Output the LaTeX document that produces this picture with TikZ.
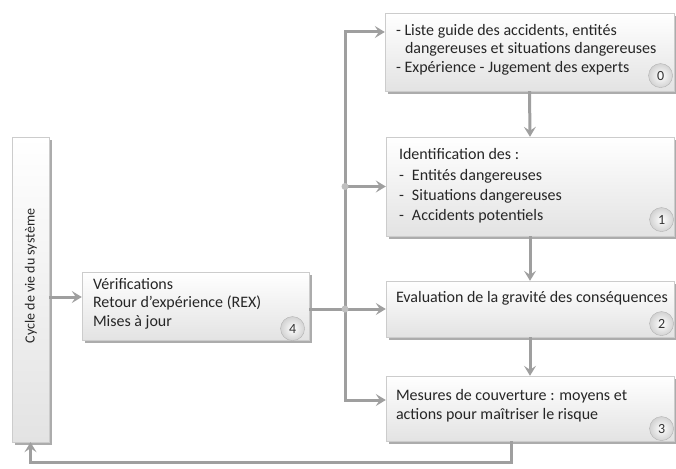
\documentclass[tikz,border=0pt]{standalone}
\usepackage{fontspec}
\setmainfont{Carlito}
\usetikzlibrary{arrows.meta,positioning,shadows}
\tikzset{
    procbox/.style={draw=gray!40, top color=white, bottom color=gray!22, inner sep=0pt,
        drop shadow={shadow xshift=3pt, shadow yshift=-3pt, fill=gray!65, opacity=1}}, % boxes of the steps
    boxtext/.style={inner sep=0pt, align=left, text=black!85, font=\fontsize{16}{18.5}\selectfont},
    numball/.style={circle, draw=gray!60, inner color=white, outer color=gray!35,
        minimum size=24pt, inner sep=0pt, text=black!80, font=\fontsize{14}{14}\selectfont},
    flow/.style={draw=gray!75, line width=3pt, -{Stealth[length=10pt, width=12pt, inset=4pt]}},
    bus/.style={draw=gray!75, line width=3pt},
    joint/.style={circle, fill=gray!50, inner sep=0pt, minimum size=7pt}
}
\begin{document}
\begin{tikzpicture}[x=1pt, y=-1pt]
    \useasboundingbox (0,0) rectangle (676,468);

    % left column
    \node[procbox, minimum width=37pt, minimum height=305pt] (lc) at (30.5,289.5) {};
    \node[boxtext, rotate=90, font=\fontsize{14}{14}\selectfont] (lctext) at (31,276) {Cycle de vie du système};

    % step boxes
    \node[procbox, minimum width=289pt, minimum height=78pt] (b0) at (529.5,52) {};
    \node[procbox, minimum width=288pt, minimum height=99pt] (b1) at (530,186.5) {};
    \node[procbox, minimum width=288pt, minimum height=56pt] (b2) at (530,309) {};
    \node[procbox, minimum width=288pt, minimum height=65pt] (b3) at (530,408.5) {};
    \node[procbox, minimum width=227pt, minimum height=68pt] (b4) at (195.5,306) {};

    \node[boxtext, below right=11pt and 11pt of b0.north west] (t0) {%
        -~Liste guide des accidents, entités\\
        \hspace*{9pt}dangereuses et situations dangereuses\\
        -~Expérience - Jugement des experts};
    \node[boxtext, below right=11pt and 13pt of b1.north west, font=\fontsize{16}{20}\selectfont] (t1) {%
        Identification des :\\[1.5pt]
        \makebox[13pt][l]{-}Entités dangereuses\\
        \makebox[13pt][l]{-}Situations dangereuses\\
        \makebox[13pt][l]{-}Accidents potentiels};
    \node[boxtext, below right=10pt and 10pt of b2.north west] (t2) {Evaluation de la gravité des conséquences};
    \node[boxtext, below right=13pt and 10pt of b3.north west, font=\fontsize{16}{19}\selectfont] (t3) {%
        Mesures de couverture : moyens et\\
        actions pour maîtriser le risque};
    \node[boxtext, below right=6pt and 11pt of b4.north west] (t4) {%
        Vérifications\\
        Retour d’expérience (REX)\\
        Mises à jour};

    % numbers
    \node[numball, above left=7pt and 5pt of b0.south east] (n0) {0};
    \node[numball, above left=8pt and 4pt of b1.south east] (n1) {1};
    \node[numball, above left=5pt and 4pt of b2.south east] (n2) {2};
    \node[numball, above left=4pt and 4pt of b3.south east] (n3) {3};
    \node[numball, above left=3pt and 8pt of b4.south east] (n4) {4};

    % connectors
    \coordinate (bt) at (345,32);
    \coordinate (bb) at (345,400);
    \coordinate (fb) at ([xshift=-19pt]b3.south);
    \draw[flow] (bb) -- (bt) -- (bt -| b0.west);
    \draw[flow] (bt) -- (bb) -- (bb -| b3.west);
    \draw[flow] (bt |- b1.west) -- (b1.west);
    \draw[flow] (b4.east |- b2.west) -- (b2.west);
    \node[joint] (j1) at (bt |- b1.west) {};
    \node[joint] (j2) at (bt |- b2.west) {};

    \draw[flow] (b0.south) -- (b1.north);
    \draw[flow] (b1.south) -- (b2.north);
    \draw[flow] (b2.south) -- (b3.north);

    \draw[flow] ([yshift=9pt]b4.west -| lc.east) -- ([yshift=9pt]b4.west);
    \draw[flow] (fb) -- ++(0,21) -| (lc.south);
\end{tikzpicture}
\end{document}
